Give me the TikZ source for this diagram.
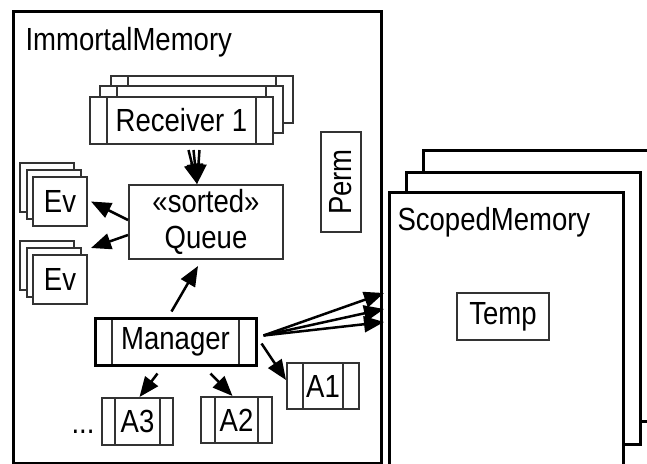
\documentclass[tikz,border=0pt]{standalone}
\usepackage{fontspec}
\setmainfont[FakeStretch=0.86]{Liberation Sans}
\usetikzlibrary{arrows.meta,calc}
\begin{document}
\begin{tikzpicture}[x=1pt,y=-1pt,font=\fontsize{32}{36}\selectfont]
\tikzstyle{b}=[draw=black!80,line width=2pt,fill=white,inner sep=0pt,align=center]
\tikzstyle{bars}=[b,path picture={\draw[black!80,line width=2pt] ([xshift=#1]path picture bounding box.north west) -- ([xshift=#1]path picture bounding box.south west) ([xshift=-#1]path picture bounding box.north east) -- ([xshift=-#1]path picture bounding box.south east);}]
\tikzstyle{mem}=[draw,line width=3pt,fill=white,anchor=north west,inner sep=0pt]
\tikzstyle{a}=[-{Stealth[length=20pt,width=16pt,inset=0pt]},line width=2.5pt]
\useasboundingbox (0,0) rectangle (647,463);
% scoped memory stack
\node[mem,minimum width=240,minimum height=271] (sm3) at (422,149) {};
\node[mem,minimum width=234,minimum height=272] (sm2) at (405,171) {};
\node[mem,minimum width=234,minimum height=290] (sm) at (388,191) {};
\node[anchor=west] (smlabel) at (394,222) {ScopedMemory};
\node[b,minimum width=92,minimum height=47] (temp) at (503,316.5) {Temp};
% immortal memory
\node[mem,minimum width=368,minimum height=452] (im) at (12,10) {};
\node[anchor=west] (imlabel) at (22,42) {ImmortalMemory};
\node[bars=17,minimum width=182,minimum height=47] (rcv3) at (202,99.5) {};
\node[bars=17,minimum width=183,minimum height=47] (rcv2) at (191.5,109.5) {};
\node[bars=17,minimum width=183,minimum height=47] (rcv) at (181.5,120.5) {Receiver 1};
\node[b,minimum width=154,minimum height=74,text depth=6pt] (q) at (206,222) {«sorted»\\Queue};
\node[b,rotate=90,minimum width=100,minimum height=40] (perm) at (341,182) {Perm};
\node[b,minimum width=54,minimum height=49] (ev13) at (47,187.5) {};
\node[b,minimum width=54,minimum height=49] (ev12) at (54,194.5) {};
\node[b,minimum width=54,minimum height=49] (ev1) at (60,201.5) {Ev};
\node[b,minimum width=54,minimum height=49] (ev23) at (47,265.5) {};
\node[b,minimum width=54,minimum height=49] (ev22) at (54,272.5) {};
\node[b,minimum width=54,minimum height=49] (ev2) at (60,279.5) {Ev};
\node[bars=17,minimum width=161,minimum height=47,draw=black,line width=3pt] (mgr) at (175.5,341.5) {Manager};
\node[bars=16,minimum width=72,minimum height=46] (a1) at (323,386) {A1};
\node[bars=14,minimum width=71,minimum height=46] (a2) at (236.5,420) {A2};
\node[bars=13,minimum width=71,minimum height=47] (a3) at (137.5,421.5) {A3};
\node (dots) at (83,432) {...};
\coordinate (s1) at (384,293);
\coordinate (s2) at (384,309);
\coordinate (s3) at (384,322);
% arrows
\draw[a] ([xshift=7,yshift=-5]rcv.south) -- ([xshift=-9]q.north);
\draw[a] ([xshift=12,yshift=-5]rcv.south) -- ([xshift=-9]q.north);
\draw[a] ([xshift=18,yshift=-5]rcv.south) -- ([xshift=-9]q.north);
\draw[a] ([yshift=2]q.west) -- ([xshift=3]ev1.east);
\draw[a] ([yshift=-13]q.west) -- ([shift={(3pt,6pt)}]ev2.north east);
\draw[a] ([xshift=-4,yshift=5]mgr.north) -- ([xshift=-8,yshift=-6]q.south);
\draw[a] ([xshift=4,yshift=-2]mgr.east) -- ([yshift=6]a1.west);
\draw[a] ([xshift=35,yshift=-7]mgr.south) -- ([xshift=-4]a2.north);
\draw[a] ([xshift=-18,yshift=-7]mgr.south) -- ([xshift=2]a3.north);
\draw[a] ([xshift=6,yshift=6]mgr.east) -- (s1);
\draw[a] ([xshift=6,yshift=6]mgr.east) -- (s2);
\draw[a] ([xshift=6,yshift=6]mgr.east) -- (s3);
\end{tikzpicture}
\end{document}
